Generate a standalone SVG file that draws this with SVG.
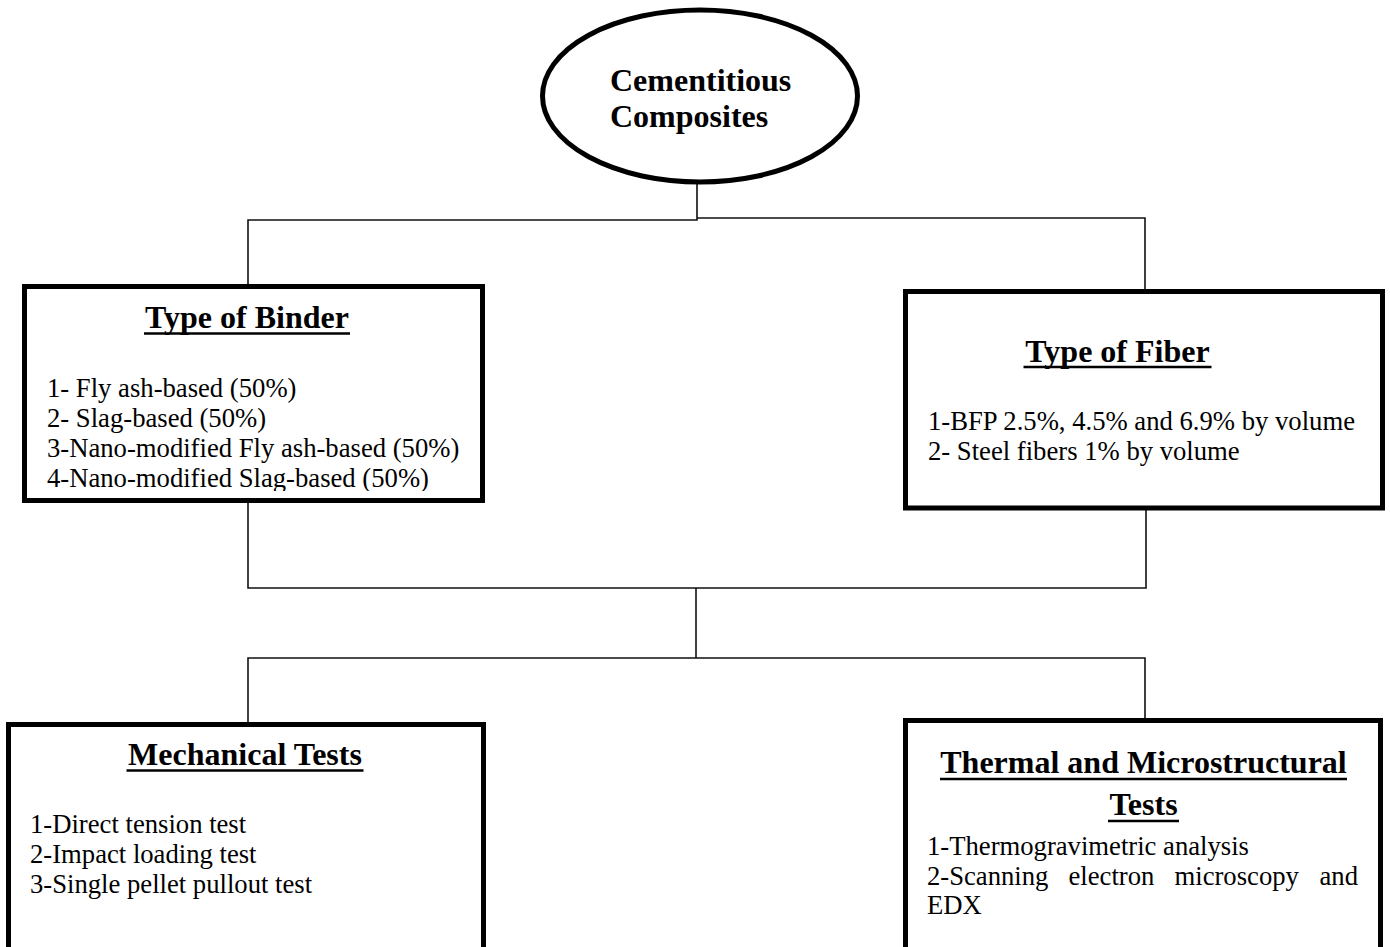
<svg xmlns="http://www.w3.org/2000/svg" width="1390" height="947" viewBox="0 0 1390 947">
<style>
.box{fill:#fff;stroke:#000;stroke-width:5}
.conn{fill:none;stroke:#111;stroke-width:1.6}
.title{font-family:"Liberation Serif","Times New Roman",serif;font-weight:bold;font-size:32px;fill:#000}
.body{font-family:"Liberation Serif","Times New Roman",serif;font-size:26.67px;fill:#000}
.ul{stroke:#000;stroke-width:2.6}
</style>
<defs>
<clipPath id="binderClip"><rect x="27" y="289" width="453" height="202"/></clipPath>
</defs>
<rect width="1390" height="947" fill="#fff"/>
<g id="connectors">
<path class="conn" d="M697 183 V220 H248 V287"/>
<path class="conn" d="M697 218 H1145 V292"/>
<path class="conn" d="M248 500 V588 H1146 V508"/>
<path class="conn" d="M696 588 V658"/>
<path class="conn" d="M248 724 V658 H1145 V720"/>
</g>
<g id="cementitious">
<ellipse cx="700" cy="96" rx="157.5" ry="86" fill="#fff" stroke="#000" stroke-width="5"/>
<text class="title" x="610" y="91">Cementitious</text>
<text class="title" x="610" y="127">Composites</text>
</g>
<g id="binder">
<rect class="box" x="24.5" y="286.5" width="458" height="214"/>
<text class="title" x="247" y="328" text-anchor="middle">Type of Binder</text>
<line class="ul" x1="144" y1="333.5" x2="350" y2="333.5"/>
<g clip-path="url(#binderClip)">
<text class="body" x="47" y="397">1- Fly ash-based (50%)</text>
<text class="body" x="47" y="427">2- Slag-based (50%)</text>
<text class="body" x="47" y="457">3-Nano-modified Fly ash-based (50%)</text>
<text class="body" x="47" y="487">4-Nano-modified Slag-based (50%)</text>
</g>
</g>
<g id="fiber">
<rect class="box" x="905.5" y="291.5" width="477" height="216.5"/>
<text class="title" x="1117.5" y="362" text-anchor="middle">Type of Fiber</text>
<line class="ul" x1="1023.5" y1="367" x2="1211.5" y2="367"/>
<text class="body" x="928" y="430">1-BFP 2.5%, 4.5% and 6.9% by volume</text>
<text class="body" x="928" y="460">2- Steel fibers 1% by volume</text>
</g>
<g id="mechanical">
<rect class="box" x="8.5" y="724.5" width="475" height="225"/>
<text class="title" x="245" y="765" text-anchor="middle">Mechanical Tests</text>
<line class="ul" x1="126.5" y1="770.5" x2="363.5" y2="770.5"/>
<text class="body" x="30" y="833">1-Direct tension test</text>
<text class="body" x="30" y="863">2-Impact loading test</text>
<text class="body" x="30" y="893">3-Single pellet pullout test</text>
</g>
<g id="thermal">
<rect class="box" x="905.5" y="720.5" width="475" height="229"/>
<text class="title" x="1143.5" y="773" text-anchor="middle">Thermal and Microstructural</text>
<line class="ul" x1="940" y1="779" x2="1347" y2="779"/>
<text class="title" x="1143.5" y="815" text-anchor="middle">Tests</text>
<line class="ul" x1="1108" y1="821" x2="1179" y2="821"/>
<text class="body" x="927" y="855">1-Thermogravimetric analysis</text>
<text class="body" y="884.5"><tspan x="927">2-Scanning</tspan><tspan x="1068.5">electron</tspan><tspan x="1174.5">microscopy</tspan><tspan x="1319.5">and</tspan></text>
<text class="body" x="927" y="914">EDX</text>
</g>
</svg>
